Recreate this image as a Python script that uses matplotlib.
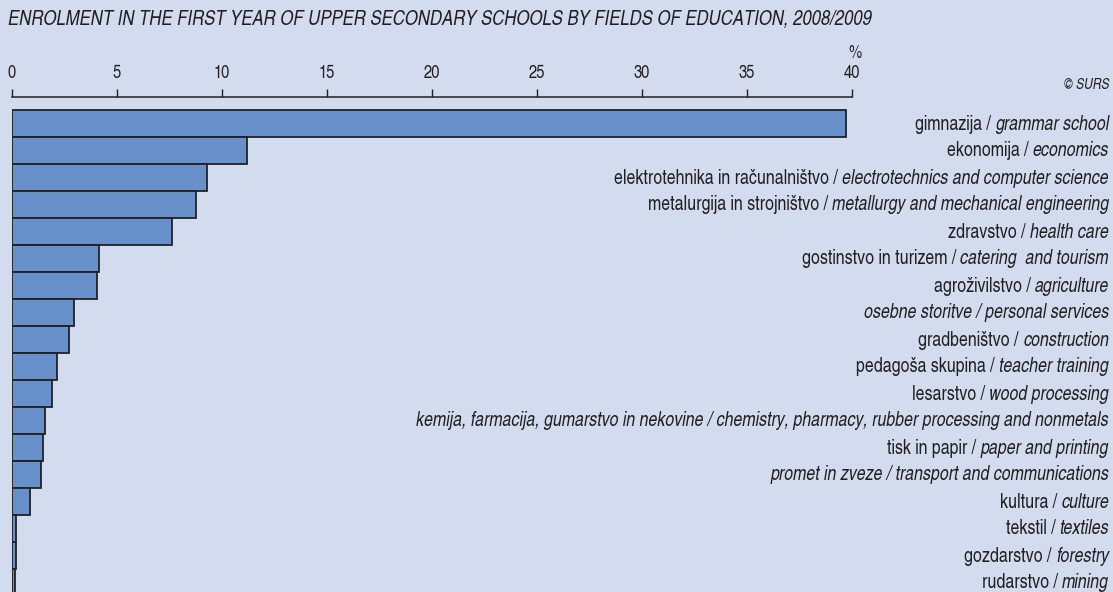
import matplotlib
matplotlib.use("Agg")
import matplotlib.pyplot as plt

# data
slo = ["gimnazija", "ekonomija", "elektrotehnika in računalništvo",
       "metalurgija in strojništvo", "zdravstvo", "gostinstvo in turizem",
       "agroživilstvo", "osebne storitve", "gradbeništvo", "pedagoša skupina",
       "lesarstvo", "kemija, farmacija, gumarstvo in nekovine", "tisk in papir",
       "promet in zveze", "kultura", "tekstil", "gozdarstvo", "rudarstvo"]
eng = ["grammar school", "economics", "electrotechnics and computer science",
       "metallurgy and mechanical engineering", "health care",
       "catering  and tourism", "agriculture", "personal services",
       "construction", "teacher training", "wood processing",
       "chemistry, pharmacy, rubber processing and nonmetals",
       "paper and printing", "transport and communications", "culture",
       "textiles", "forestry", "mining"]
all_italic = [False, False, False, False, False, False, False, True, False,
              False, False, True, False, True, False, False, False, False]
values = [39.7, 11.2, 9.3, 8.75, 7.6, 4.14, 4.03, 2.97, 2.73, 2.13, 1.9,
          1.59, 1.49, 1.37, 0.84, 0.19, 0.19, 0.14]
xticks = [0, 5, 10, 15, 20, 25, 30, 35, 40]

plt.rcParams['font.family'] = ["TeX Gyre Heros Cn", "DejaVu Sans"]

bg = "#d3dcee"
txt = "#231f20"
W, H = 1113, 592
fig = plt.figure(figsize=(W / 100, H / 100), dpi=100, facecolor=bg)

# axes: x 0..40 -> px 12..852, top axis line at y=97
ax = fig.add_axes([12 / W, 0, 840 / W, (H - 97) / H])
ax.set_facecolor(bg)
n = len(values)
ax.barh(range(n), values, height=1.0, color="#6890ca", edgecolor="#222222",
        linewidth=1.3)
ax.set_xlim(0, 40)
top = -0.5 - 13 / 27
ax.set_ylim(top + (H - 97) / 27, top)

for s in ["left", "right", "bottom"]:
    ax.spines[s].set_visible(False)
ax.spines["top"].set_linewidth(1.1)
ax.spines["top"].set_color(txt)
ax.xaxis.tick_top()
ax.set_xticks(xticks)
ax.set_xticklabels([str(t) for t in xticks])
ax.tick_params(axis="x", direction="out", length=6, width=1, color=txt,
               labelsize=13, labelcolor=txt, pad=5)
ax.set_yticks([])

fig.text(855 / W, 1 - 54 / H, "%", ha="center", va="center", fontsize=13,
         color=txt)

# category labels at right
for i in range(n):
    y = 1 - (110 + 27 * i + 14) / H
    if all_italic[i]:
        fig.text(1109 / W, y, slo[i] + " / " + eng[i], ha="right", va="center",
                 fontsize=14, style="italic", color=txt)
    else:
        t = fig.text(1109 / W, y, eng[i], ha="right", va="center",
                     fontsize=14, style="italic", color=txt)
        ax.annotate(slo[i] + " / ", xy=(0, 0.5), xycoords=t, ha="right",
                    va="center", fontsize=14, color=txt, annotation_clip=False)

fig.text(8 / W, 1 - 20 / H,
         "ENROLMENT IN THE FIRST YEAR OF UPPER SECONDARY SCHOOLS BY FIELDS OF EDUCATION, 2008/2009",
         ha="left", va="center", fontsize=14.7, style="italic", color=txt)
fig.text(1109 / W, 1 - 85 / H, "© SURS", ha="right", va="center",
         fontsize=10.5, style="italic", color=txt)

fig.savefig("out.png", dpi=100, facecolor=bg)
